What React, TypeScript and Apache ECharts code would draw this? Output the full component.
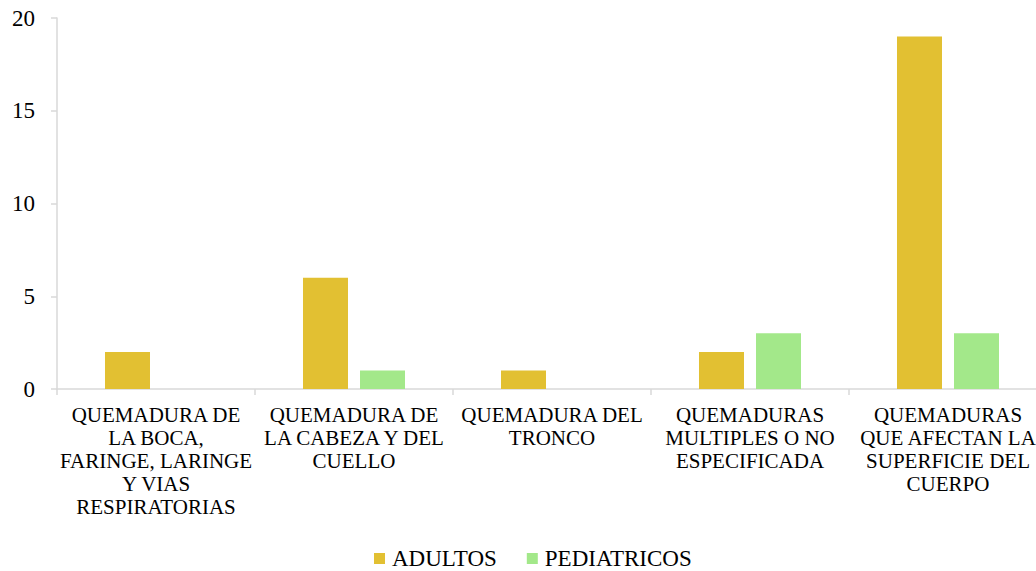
import React, { useEffect, useRef } from "react";
import * as echarts from "echarts";

// Burn categories (line breaks as printed under the axis)
const categories = [
  "QUEMADURA DE\nLA BOCA,\nFARINGE, LARINGE\nY VIAS\nRESPIRATORIAS",
  "QUEMADURA DE\nLA CABEZA Y DEL\nCUELLO",
  "QUEMADURA DEL\nTRONCO",
  "QUEMADURAS\nMULTIPLES O NO\nESPECIFICADA",
  "QUEMADURAS\nQUE AFECTAN LA\nSUPERFICIE DEL\nCUERPO",
];

const seriesNames = ["ADULTOS", "PEDIATRICOS"];
const adultos = [2, 6, 1, 2, 19];
const pediatricos = [0, 1, 0, 3, 3];

const yTicks = { min: 0, max: 20, interval: 5 };

const FONT = "Liberation Serif";
const AXIS_COLOR = "#d9d9d9";

export default function App() {
  const ref = useRef<HTMLDivElement>(null);

  useEffect(() => {
    if (!ref.current) return;
    const chart = echarts.init(ref.current, null, { renderer: "svg" });
    chart.setOption({
      animation: false,
      textStyle: { fontFamily: FONT, color: "#000" },
      grid: { left: 57, top: 18, width: 990, height: 371, containLabel: false },
      legend: {
        data: seriesNames,
        left: 374,
        top: 547,
        padding: 0,
        itemWidth: 11,
        itemHeight: 11,
        itemGap: 30,
        icon: "rect",
        textStyle: { fontFamily: FONT, fontSize: 23, lineHeight: 21, color: "#000", padding: [0, 0, 0, 2] },
      },
      xAxis: {
        type: "category",
        data: categories,
        axisLine: { show: true, lineStyle: { color: AXIS_COLOR, width: 1.5 } },
        axisTick: { show: true, length: 6, lineStyle: { color: AXIS_COLOR, width: 1.5 } },
        axisLabel: {
          interval: 0,
          margin: 14,
          fontFamily: FONT,
          fontSize: 21,
          lineHeight: 23,
          color: "#000",
          align: "center",
        },
      },
      yAxis: {
        type: "value",
        min: yTicks.min,
        max: yTicks.max,
        interval: yTicks.interval,
        splitLine: { show: false },
        axisLine: { show: true, lineStyle: { color: AXIS_COLOR, width: 1.5 } },
        axisTick: { show: true, length: 6, lineStyle: { color: AXIS_COLOR, width: 1.5 } },
        axisLabel: { margin: 22, fontFamily: FONT, fontSize: 23, color: "#000" },
      },
      series: [
        {
          name: seriesNames[0],
          type: "bar",
          data: adultos,
          barWidth: 45,
          barGap: "26.7%",
          itemStyle: { color: "#E2C032" },
        },
        {
          name: seriesNames[1],
          type: "bar",
          data: pediatricos,
          barWidth: 45,
          itemStyle: { color: "#A3E88A" },
        },
      ],
    });
    return () => chart.dispose();
  }, []);

  // The chart runs a few pixels past the right edge of the visible frame.
  return (
    <div style={{ position: "absolute", left: 0, top: 0, width: 1036, height: 571, overflow: "hidden", background: "#fff" }}>
      <div ref={ref} style={{ width: 1050, height: 571 }} />
    </div>
  );
}
